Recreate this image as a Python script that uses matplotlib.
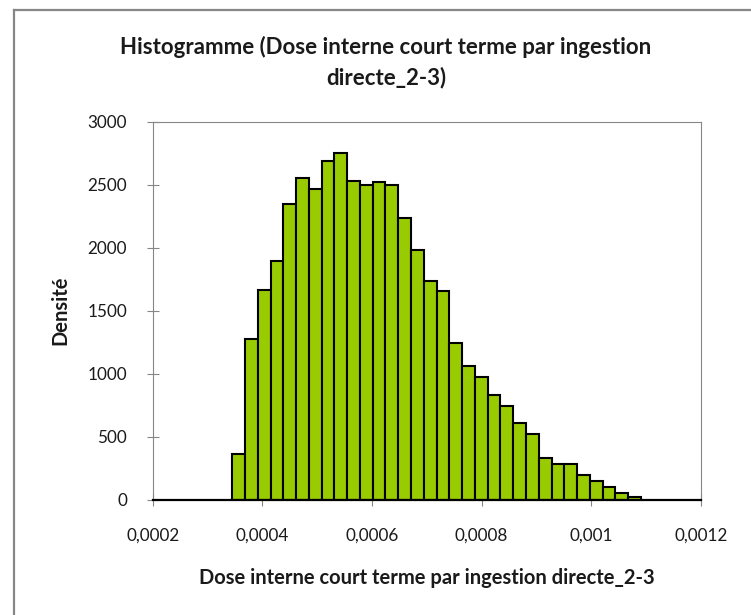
import numpy as np
import matplotlib
matplotlib.use('Agg')
import matplotlib.pyplot as plt
from matplotlib.lines import Line2D

# histogram data
bin_start = 0.000345
bin_width = 0.0000233
densities = [360, 1276, 1663, 1896, 2343, 2550, 2468, 2690, 2754, 2529,
             2494, 2521, 2494, 2232, 1978, 1734, 1655, 1242, 1064, 972,
             829, 741, 604, 519, 331, 283, 283, 196, 148, 103, 53, 16]
x_ticks = [0.0002, 0.0004, 0.0006, 0.0008, 0.001, 0.0012]
x_tick_labels = ['0,0002', '0,0004', '0,0006', '0,0008', '0,001', '0,0012']
y_ticks = [0, 500, 1000, 1500, 2000, 2500, 3000]

title = 'Histogramme (Dose interne court terme par ingestion\ndirecte_2-3)'
xlabel = 'Dose interne court terme par ingestion directe_2-3'
ylabel = 'Densité'

plt.rcParams['font.family'] = ['Lato', 'DejaVu Sans']

fig = plt.figure(figsize=(7.51, 6.15), dpi=100)
ax = fig.add_axes([0.2033, 0.1878, 0.7301, 0.6143])

lefts = bin_start + bin_width * np.arange(len(densities))
ax.bar(lefts, densities, width=bin_width, align='edge',
       color='#99CC00', edgecolor='black', linewidth=1.5, zorder=3)

ax.set_xlim(0.0002, 0.0012)
ax.set_ylim(0, 3000)
ax.set_xticks(x_ticks)
ax.set_xticklabels(x_tick_labels)
ax.set_yticks(y_ticks)
ax.tick_params(axis='both', direction='inout', length=9, width=0.8,
               color='#868686', labelsize=12.3, labelcolor='#1a1a1a')
ax.tick_params(axis='x', pad=16)
ax.tick_params(axis='y', pad=14)

for side in ['left', 'top', 'right']:
    ax.spines[side].set_color('#868686')
    ax.spines[side].set_linewidth(0.8)
ax.spines['bottom'].set_color('black')
ax.spines['bottom'].set_linewidth(1.6)
ax.spines['bottom'].set_zorder(4)

fig.text(0.514, 0.899, title, ha='center', va='center', fontsize=16,
         fontweight='bold', linespacing=1.45, color='#1a1a1a')
fig.text(0.568, 0.06, xlabel, ha='center', va='center', fontsize=14.5,
         fontweight='bold', color='#1a1a1a')
fig.text(0.081, 0.495, ylabel, ha='center', va='center', fontsize=14.5,
         fontweight='bold', rotation=90, color='#1a1a1a')

# outer chart border (cut off on the right and bottom)
fig.add_artist(Line2D([13.5 / 751, 13.5 / 751], [0, 1 - 9.5 / 615],
                      transform=fig.transFigure, color='#878787', lw=1.6))
fig.add_artist(Line2D([13.5 / 751, 1], [1 - 9.5 / 615, 1 - 9.5 / 615],
                      transform=fig.transFigure, color='#878787', lw=1.6))

fig.savefig('out.png', dpi=100)
